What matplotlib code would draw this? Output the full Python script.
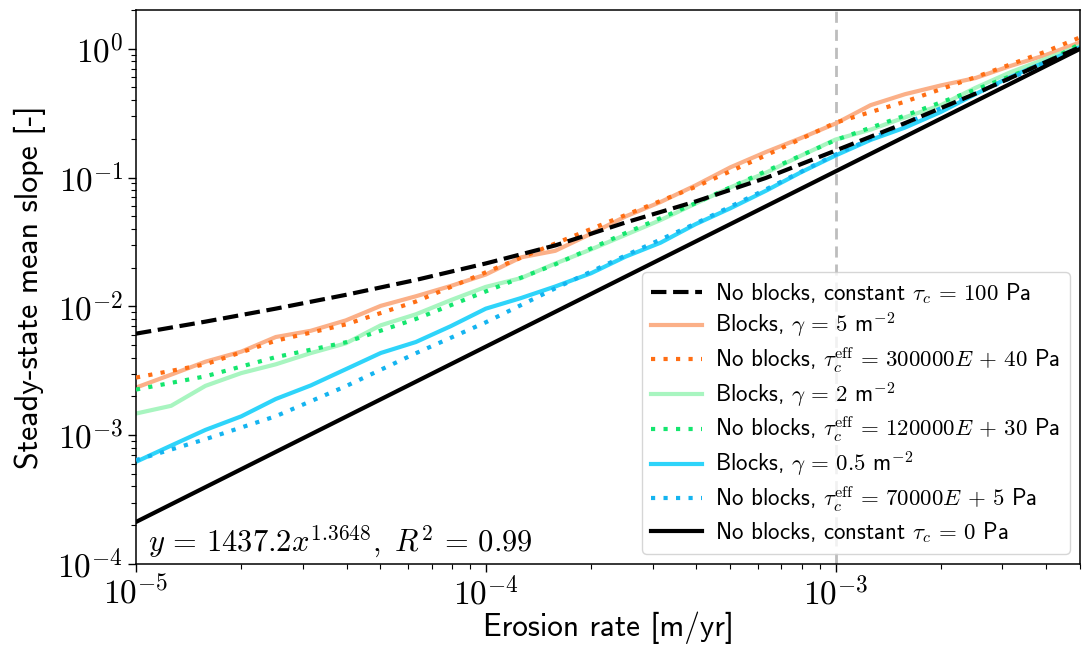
import matplotlib
matplotlib.use("Agg")
import matplotlib.pyplot as plt
from matplotlib.ticker import FuncFormatter
import numpy as np

plt.rcParams['mathtext.fontset'] = 'cm'

# Erosion rates (fine sampling for the "Blocks" simulations)
E_fine = [1.00e-5, 1.26e-5, 1.58e-5, 2.00e-5, 2.51e-5, 3.16e-5, 3.98e-5, 5.01e-5,
          6.31e-5, 7.94e-5, 1.00e-4, 1.26e-4, 1.58e-4, 2.00e-4, 2.51e-4, 3.16e-4,
          3.98e-4, 5.01e-4, 6.31e-4, 7.94e-4, 1.00e-3, 1.26e-3, 1.58e-3, 2.00e-3,
          2.51e-3, 3.16e-3, 3.98e-3, 5.01e-3]
# Erosion rates (coarse sampling for the smooth "No blocks" curves)
E_coarse = [1.00e-5, 1.58e-5, 2.51e-5, 3.98e-5, 6.31e-5, 1.00e-4, 1.58e-4, 2.51e-4,
            3.98e-4, 6.31e-4, 1.00e-3, 1.58e-3, 2.51e-3, 3.98e-3, 5.01e-3]
E_line = [1.0e-5, 5.01e-3]

blocks_g5 = [2.34e-3, 2.95e-3, 3.72e-3, 4.45e-3, 5.78e-3, 6.46e-3, 7.78e-3, 1.009e-2,
             1.197e-2, 1.439e-2, 1.766e-2, 2.399e-2, 2.698e-2, 3.664e-2, 4.989e-2,
             6.457e-2, 8.69e-2, 0.1202, 0.1574, 0.2018, 0.2624, 0.3648, 0.4436,
             0.5188, 0.5916, 0.7345, 0.8913, 1.122]
blocks_g2 = [1.472e-3, 1.690e-3, 2.415e-3, 3.034e-3, 3.548e-3, 4.335e-3, 5.164e-3,
             7.129e-3, 8.670e-3, 1.117e-2, 1.416e-2, 1.656e-2, 2.148e-2, 2.767e-2,
             3.589e-2, 4.677e-2, 6.281e-2, 8.395e-2, 0.1086, 0.1472, 0.1972, 0.2355,
             0.2931, 0.3648, 0.4966, 0.6561, 0.8318, 1.054]
blocks_g05 = [6.21e-4, 8.30e-4, 1.099e-3, 1.400e-3, 1.910e-3, 2.432e-3, 3.251e-3,
              4.345e-3, 5.284e-3, 7.015e-3, 9.594e-3, 1.159e-2, 1.426e-2, 1.807e-2,
              2.432e-2, 3.119e-2, 4.345e-2, 5.781e-2, 7.870e-2, 0.1094, 0.1483,
              0.1959, 0.2443, 0.3228, 0.4436, 0.6039, 0.7889, 1.028]

tc100 = [6.14e-3, 7.61e-3, 9.60e-3, 1.228e-2, 1.603e-2, 2.153e-2, 2.972e-2, 4.478e-2,
         6.516e-2, 9.91e-2, 0.1619, 0.2645, 0.4477, 0.7852, 1.03]
eff_300k = [2.80e-3, 3.55e-3, 5.41e-3, 7.24e-3, 1.089e-2, 1.837e-2, 3.076e-2, 5.117e-2,
            8.47e-2, 0.1483, 0.2667, 0.3882, 0.6012, 0.9484, 1.227]
eff_120k = [2.259e-3, 2.864e-3, 4.036e-3, 5.260e-3, 7.980e-3, 1.306e-2, 2.118e-2,
            3.707e-2, 6.324e-2, 0.1117, 0.1954, 0.3027, 0.4808, 0.7780, 1.094]
eff_70k = [6.40e-4, 9.31e-4, 1.403e-3, 2.399e-3, 4.325e-3, 7.516e-3, 1.380e-2, 2.483e-2,
           4.395e-2, 8.07e-2, 0.1507, 0.2624, 0.4477, 0.778, 1.028]
tc0 = [2.12e-4, 1.0]

labels = [r'No blocks, constant $\tau_c\,=\,100$ Pa',
          r'Blocks, $\gamma\,=\,5$ m$^{-2}$',
          r'No blocks, $\tau_c^{\mathrm{eff}}\,=\,300000E\,+\,40$ Pa',
          r'Blocks, $\gamma\,=\,2$ m$^{-2}$',
          r'No blocks, $\tau_c^{\mathrm{eff}}\,=\,120000E\,+\,30$ Pa',
          r'Blocks, $\gamma\,=\,0.5$ m$^{-2}$',
          r'No blocks, $\tau_c^{\mathrm{eff}}\,=\,70000E\,+\,5$ Pa',
          r'No blocks, constant $\tau_c\,=\,0$ Pa']

fig = plt.figure(figsize=(10.87, 6.45), dpi=100)
ax = fig.add_axes([0.1251, 0.1256, 0.8685, 0.859])

lw = 3.0
ax.axvline(1e-3, color='#bdbdbd', ls=(0, (4, 2.5)), lw=2, zorder=1)
l1, = ax.plot(E_coarse, tc100, color='black', ls='--', lw=lw, zorder=4)
l2, = ax.plot(E_fine, blocks_g5, color='#fbb088', lw=lw, zorder=2)
l3, = ax.plot(E_coarse, eff_300k, color='#ff6e14', ls=(0, (1, 2)), lw=lw, zorder=3)
l4, = ax.plot(E_fine, blocks_g2, color='#a8f5c0', lw=lw, zorder=2)
l5, = ax.plot(E_coarse, eff_120k, color='#14e66e', ls=(0, (1, 2)), lw=lw, zorder=3)
l6, = ax.plot(E_fine, blocks_g05, color='#2ed4fa', lw=lw, zorder=2)
l7, = ax.plot(E_coarse, eff_70k, color='#14b4f0', ls=(0, (1, 2)), lw=lw, zorder=3)
l8, = ax.plot(E_line, tc0, color='black', lw=lw, zorder=3)

ax.set_xscale('log')
ax.set_yscale('log')
ax.set_xlim(1e-5, 5e-3)
ax.set_ylim(1e-4, 2.0)

fmt = FuncFormatter(lambda v, p: r'$10^{%d}$' % int(round(np.log10(v))))
ax.xaxis.set_major_formatter(fmt)
ax.yaxis.set_major_formatter(fmt)
ax.tick_params(axis='both', which='major', labelsize=24, length=6, width=1, pad=3)
ax.tick_params(axis='both', which='minor', length=3.5, width=0.8)
for s in ax.spines.values():
    s.set_linewidth(1.1)

ax.set_xlabel('Erosion rate [m/yr]', family='cmss10', fontsize=22.5, labelpad=0)
ax.set_ylabel('Steady-state mean slope [-]', family='cmss10', fontsize=23, labelpad=8)

ax.text(0.013, 0.022, r'$y\,=\,1437.2x^{1.3648},\ R^2\,=\,0.99$', transform=ax.transAxes,
        fontsize=22, va='baseline', ha='left')

leg = ax.legend([l1, l2, l3, l4, l5, l6, l7, l8], labels, loc='lower right',
                prop={'family': 'cmss10', 'size': 16.5}, handlelength=2.2,
                handletextpad=0.6, labelspacing=0.22, framealpha=0.8,
                borderaxespad=0.45, borderpad=0.4)

fig.savefig('out.png', dpi=100)
